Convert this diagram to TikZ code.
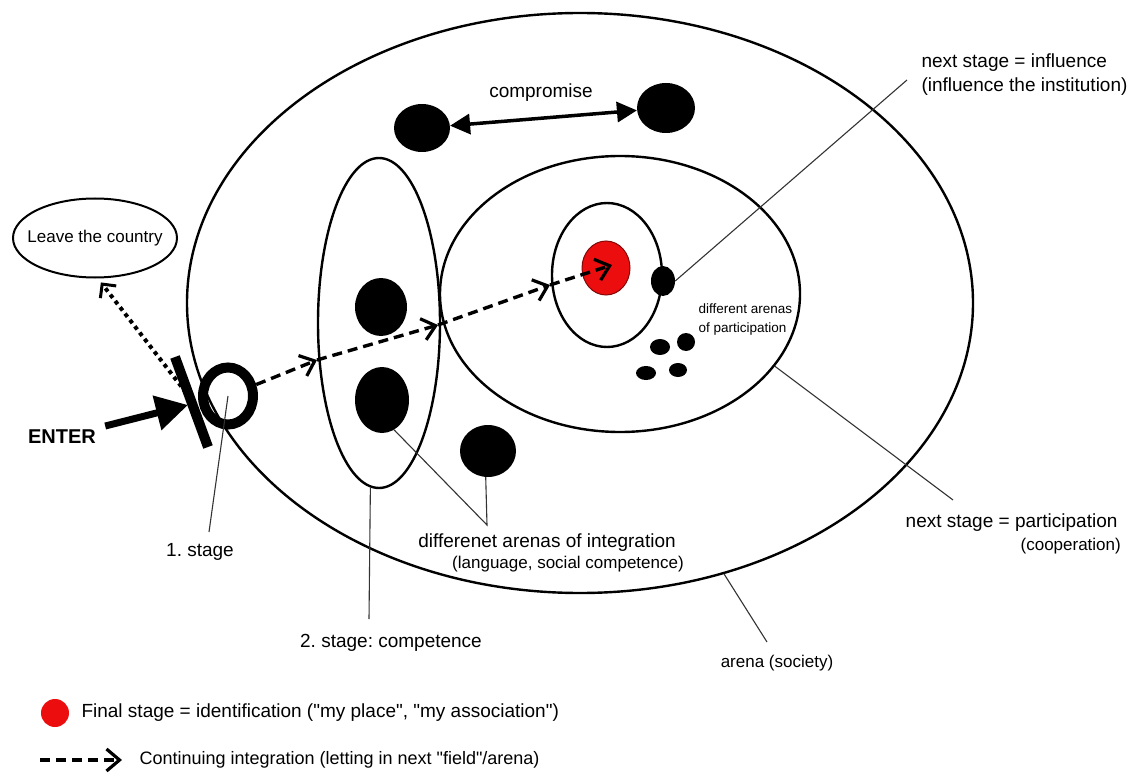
\documentclass[tikz,border=0pt]{standalone}
\usepackage{fontspec}
\setmainfont{Liberation Sans}
\usetikzlibrary{shapes.geometric,arrows.meta,calc}
\definecolor{idred}{RGB}{236,14,14}
\newcommand{\dq}{\XeTeXglyph\XeTeXcharglyph"22 }
\tikzset{
  oval/.style={ellipse,draw,line width=2.4pt,inner sep=0pt},
  blob/.style={ellipse,fill=black,inner sep=0pt},
  lead/.style={draw=black!80,line width=1.1pt},
  flow/.style={line width=3.4pt,dash pattern=on 10pt off 6pt,
    -{Straight Barb[length=13pt,width=22pt,line width=3.2pt]}},
  exitflow/.style={line width=4pt,dash pattern=on 4pt off 4pt,shorten <=6pt,shorten >=5pt,
    -{Straight Barb[length=10pt,width=20pt,line width=3pt]}},
  big/.style={font=\fontsize{19}{24}\selectfont},
  mid/.style={font=\fontsize{17}{21}\selectfont},
  small/.style={font=\fontsize{13.5}{19}\selectfont},
}
\begin{document}
\frenchspacing
\begin{tikzpicture}[x=1pt,y=-1pt]
  \useasboundingbox (0,0) rectangle (1130,778);
  \node[oval,minimum width=786pt,minimum height=580pt] (arena) at (580,303) {};
  \node[oval,minimum width=360pt,minimum height=276pt] (part) at (620,294) {};
  \node[oval,minimum width=110pt,minimum height=144pt] (infl) at (607,275) {};
  \node[oval,minimum width=122pt,minimum height=330pt] (comp) at (379,323) {};
  \node[ellipse,fill=idred,draw=idred!55!black,line width=1pt,inner sep=0pt,
    minimum width=48pt,minimum height=54pt] (ident) at (606,268) {};
  \node[blob,minimum width=24pt,minimum height=30pt] (infdot) at (663,281) {};
  \node[blob,minimum width=20pt,minimum height=16pt] (pa1) at (660,347) {};
  \node[blob,minimum width=18pt,minimum height=18pt] (pa2) at (686,342) {};
  \node[blob,minimum width=20pt,minimum height=14pt] (pa3) at (646,373) {};
  \node[blob,minimum width=18pt,minimum height=14pt] (pa4) at (678,370) {};
  \node[blob,minimum width=52pt,minimum height=58pt] (cb1) at (381,307) {};
  \node[blob,minimum width=54pt,minimum height=66pt] (cb2) at (382,400) {};
  \node[blob,minimum width=56pt,minimum height=52pt] (ob) at (488,451) {};
  \node[blob,minimum width=56pt,minimum height=48pt] (cl) at (422,128) {};
  \node[blob,minimum width=58pt,minimum height=50pt] (cr) at (666,108) {};
  \node[oval,line width=2pt,minimum width=164pt,minimum height=79pt,
    label={[mid]center:Leave the country}] (leave) at (95,238) {};
  \node[ellipse,draw,line width=10pt,minimum width=50pt,minimum height=57pt] (entry) at (228,396) {};
  \node[font=\bfseries\fontsize{20}{24}\selectfont] (enter) at (62,437) {ENTER};
  \node[big] (comptxt) at (541,93) {compromise};
  \coordinate (b1) at (175,357);
  \coordinate (b2) at (208,447);
  \coordinate (entertip) at (188,405);
  \coordinate (s1) at (317,360);
  \coordinate (s2) at (438,325);
  \coordinate (s3) at (550,285);
  \coordinate (s4) at (612,265);
  \draw[line width=10pt] (b1) -- (b2);
  \draw[line width=7pt,shorten <=6pt,-{Triangle[length=32pt,width=34pt]}] (enter) -- (entertip);
  \draw[exitflow] ($(b1)!0.45!(b2)$) -- (leave.-86);
  \draw[flow] (entry) -- (s1);
  \draw[flow] (s1) -- (s2);
  \draw[flow] (s2) -- (s3);
  \draw[flow] (s3) -- (s4);
  \draw[line width=3.5pt,{Triangle[length=20pt,width=20pt]}-{Triangle[length=20pt,width=20pt]}] (cl) -- (cr);
  \node[big] (st1) at (200,552) {1. stage};
  \node[big] (st2) at (391,643) {2. stage: competence};
  \node[big] (int1) at (547,543) {differenet arenas of integration};
  \node[mid] (int2) at (568,564) {(language, social competence)};
  \node[big,align=left,anchor=west] (inf) at (918,75) {next stage = influence\\(influence the institution)};
  \node[big,anchor=east] (par1) at (1121,523) {next stage = participation};
  \node[mid,anchor=north east,inner sep=0pt] (par2) at ([yshift=-3pt]par1.south east) {(cooperation)};
  \node[mid] (ar) at (777,663) {arena (society)};
  \node[small,align=left,anchor=west] (dap) at (695,320) {different arenas\\of participation};
  \coordinate (l-st1) at (209,532);
  \coordinate (l-st2) at (369,619);
  \coordinate (l-int) at (487,525);
  \coordinate (l-inf) at (907,80);
  \coordinate (l-par) at (953,500);
  \coordinate (l-ar) at (767,642);
  \draw[lead] (entry.center) -- (l-st1);
  \draw[lead] (comp.-93) -- (l-st2);
  \draw[lead] (cb2.-68) -- (l-int) -- (ob.-95);
  \draw[lead] (infdot.east) -- (l-inf);
  \draw[lead] (part.-25) -- (l-par);
  \draw[lead] (arena.-62) -- (l-ar);
  \node[circle,fill=idred,minimum size=28pt,inner sep=0pt] (legdot) at (55,713) {};
  \node[big,anchor=west] (legid) at (78,713) {Final stage = identification (\dq my place\dq, \dq my association\dq)};
  \coordinate (lg0) at (40,760);
  \coordinate (lg1) at (122,760);
  \draw[flow] (lg0) -- (lg1);
  \node[font=\fontsize{18}{22}\selectfont,anchor=west] (legfl) at (136,760) {Continuing integration (letting in next \dq field\dq/arena)};
\end{tikzpicture}
\end{document}
